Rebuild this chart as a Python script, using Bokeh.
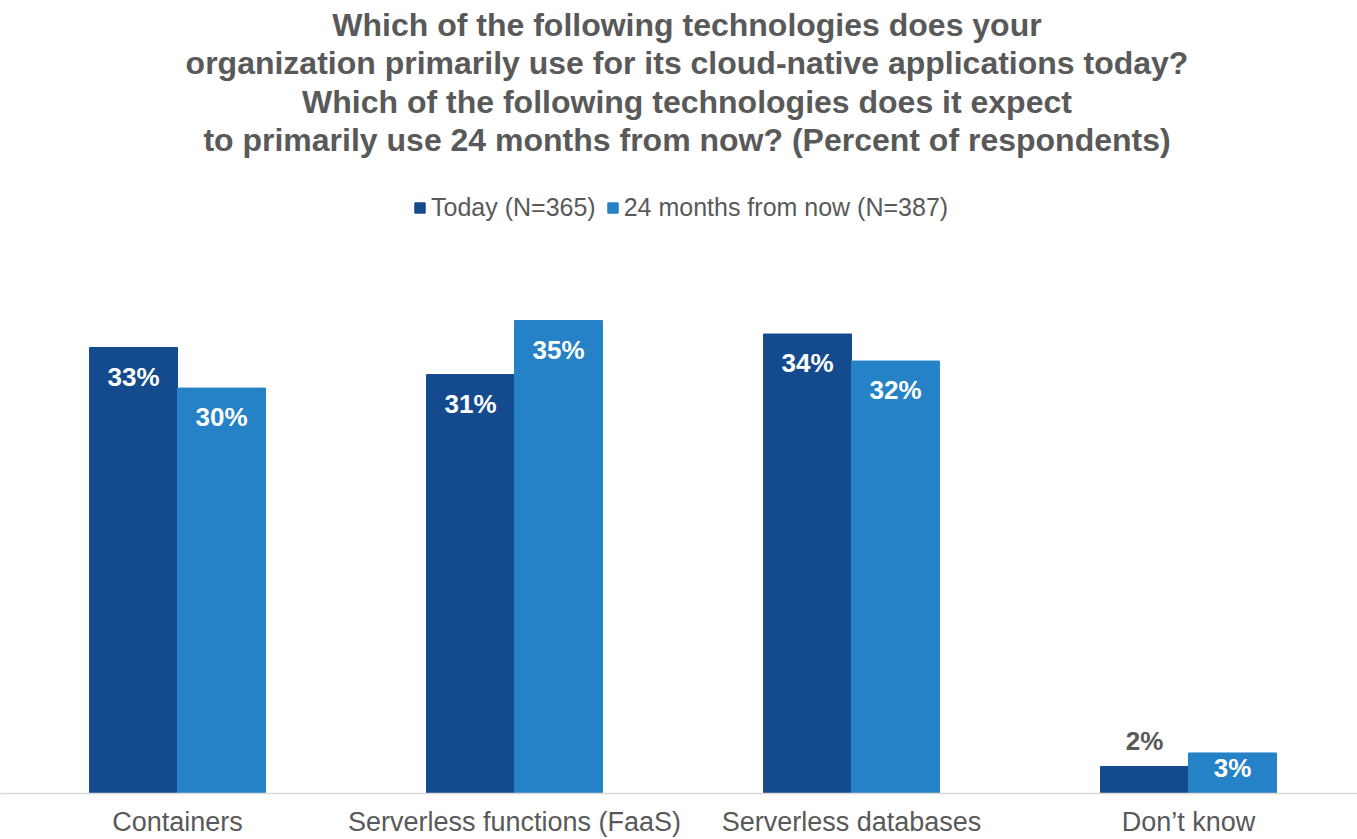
from bokeh.plotting import figure
from bokeh.models import ColumnDataSource, Range1d, Label, Legend, LegendItem, FixedTicker
from bokeh.transform import dodge
from bokeh.core.properties import value
from bokeh.embed import file_html
from bokeh.resources import INLINE

# ---- data ----
categories = ["Containers", "Serverless functions (FaaS)", "Serverless databases", "Don\u2019t know"]
today = [33, 31, 34, 2]
future = [30, 35, 32, 3]
series_names = ["Today (N=365)", "24 months from now (N=387)"]
title_lines = [
    "Which of the following technologies does your",
    "organization primarily use for its cloud-native applications today?",
    "Which of the following technologies does it expect",
    "to primarily use 24 months from now? (Percent of respondents)",
]

# ---- style ----
DARK = "#144B8E"
LIGHT = "#2582C6"
GRAY = "#595959"
FONT = "Liberation Sans"

W, H = 1357, 839
BOTTOM = 46
FRAME_H = H - BOTTOM
PX_PER = 13.514          # pixels per percentage point
Y_TOP = FRAME_H / PX_PER
CAT_PX = 337.0           # pixels per category
X0 = 0.5 - 8.5 / CAT_PX  # data value at left edge
X1 = X0 + W / CAT_PX
BAR_W = 0.261

pos = list(range(1, len(categories) + 1))

def label_layout(vals):
    offs, cols = [], []
    for v in vals:
        h = v * PX_PER
        if h >= 35:
            offs.append(min(29, h - 26))
            cols.append("white")
        else:
            offs.append(-25)
            cols.append(GRAY)
    return offs, cols

t_off, t_col = label_layout(today)
f_off, f_col = label_layout(future)

src = ColumnDataSource(dict(
    pos=pos, cat=categories, today=today, future=future,
    today_lab=[f"{v}%" for v in today], future_lab=[f"{v}%" for v in future],
    t_off=t_off, t_col=t_col, f_off=f_off, f_col=f_col,
))

p = figure(width=W, height=H, output_backend="svg", toolbar_location=None,
           x_range=Range1d(X0, X1), y_range=Range1d(0, Y_TOP),
           min_border_left=0, min_border_right=0, min_border_top=0, min_border_bottom=BOTTOM)

r1 = p.vbar(x=dodge("pos", -BAR_W / 2), top="today", width=BAR_W, source=src,
            fill_color=DARK, line_color=DARK)
r2 = p.vbar(x=dodge("pos", BAR_W / 2), top="future", width=BAR_W, source=src,
            fill_color=LIGHT, line_color=LIGHT)

for off, col, lab, key, yo in [(-BAR_W / 2, "t_col", "today_lab", "today", "t_off"),
                               (BAR_W / 2, "f_col", "future_lab", "future", "f_off")]:
    p.text(x=dodge("pos", off), y=key, text=lab, source=src, y_offset=yo,
           text_color=col, text_align="center", text_baseline="middle",
           text_font=value(FONT), text_font_style="bold", text_font_size="26px")

# title lines
TITLE_X = X0 + 686.5 / CAT_PX
for i, line in enumerate(title_lines):
    p.add_layout(Label(x=TITLE_X, y=Y_TOP - (24 + i * 38.5) / PX_PER, text=line,
                       text_align="center", text_baseline="middle",
                       text_font=FONT, text_font_style="bold",
                       text_font_size="32px", text_color=GRAY))

legend = Legend(items=[LegendItem(label=series_names[0], renderers=[r1]),
                       LegendItem(label=series_names[1], renderers=[r2])],
                orientation="horizontal", location=(413, 571),
                glyph_width=13, glyph_height=13, label_standoff=5, spacing=10,
                padding=0, margin=0,
                label_text_font=FONT, label_text_font_size="25px", label_text_color=GRAY,
                background_fill_alpha=0, border_line_alpha=0)
p.add_layout(legend)

p.xaxis.ticker = FixedTicker(ticks=pos)
p.xaxis.major_label_overrides = {k: c for k, c in zip(pos, categories)}
p.xaxis.axis_line_color = "#D9D9D9"
p.xaxis.axis_line_width = 1.5
p.xaxis.major_tick_line_color = None
p.xaxis.minor_tick_line_color = None
p.xaxis.major_tick_out = 0
p.xaxis.major_tick_in = 0
p.xaxis.major_label_text_font = FONT
p.xaxis.major_label_text_font_size = "27px"
p.xaxis.major_label_text_color = GRAY
p.xaxis.major_label_standoff = 13
p.yaxis.visible = False
p.xgrid.grid_line_color = None
p.ygrid.grid_line_color = None
p.outline_line_color = None
p.background_fill_color = "white"

open("out.html", "w").write(file_html(p, INLINE))
